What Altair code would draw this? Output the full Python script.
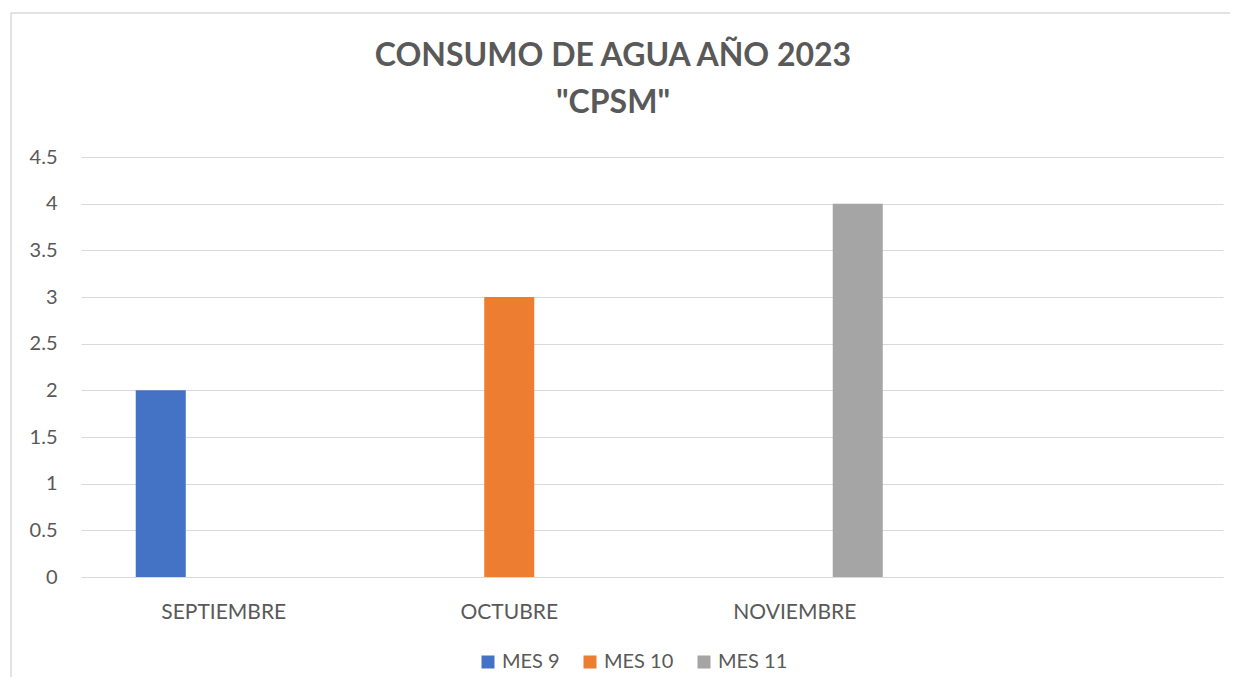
import altair as alt
import pandas as pd

categories = ["SEPTIEMBRE", "OCTUBRE", "NOVIEMBRE", " "]
series = ["MES 9", "MES 10", "MES 11"]
bar_month = ["SEPTIEMBRE", "OCTUBRE", "NOVIEMBRE"]
bar_series = ["MES 9", "MES 10", "MES 11"]
bar_values = [2, 3, 4]
colors = ["#4472C4", "#ED7D31", "#A5A5A5"]
y_ticks = [0, 0.5, 1, 1.5, 2, 2.5, 3, 3.5, 4, 4.5]
title_lines = ["CONSUMO DE AGUA AÑO 2023", '"CPSM"']

df = pd.DataFrame({"mes": bar_month, "serie": bar_series, "valor": bar_values})

FONT = "Lato"
TXT = "#595959"
GRID = "#d9d9d9"

bars = alt.Chart(df).mark_bar().encode(
    x=alt.X(
        "mes:N",
        sort=categories,
        scale=alt.Scale(domain=categories, paddingInner=0, paddingOuter=0),
        axis=alt.Axis(
            title=None, labelAngle=0, ticks=False, domain=True, domainColor=GRID,
            domainWidth=1, labelPadding=24, labelFontSize=21, labelColor=TXT,
            labelFont=FONT, grid=False,
        ),
    ),
    xOffset=alt.XOffset(
        "serie:N",
        sort=series,
        scale=alt.Scale(domain=series, paddingInner=0.206, paddingOuter=0.869),
    ),
    y=alt.Y(
        "valor:Q",
        scale=alt.Scale(domain=[0, 4.5], nice=False),
        axis=alt.Axis(
            title=None, values=y_ticks, format="~g", ticks=False, domain=False,
            grid=True, gridColor=GRID, gridWidth=1, labelPadding=24,
            labelFontSize=20, labelColor=TXT, labelFont=FONT,
        ),
    ),
    color=alt.Color(
        "serie:N",
        sort=series,
        scale=alt.Scale(domain=series, range=colors),
        legend=alt.Legend(
            title=None, orient="none", direction="horizontal", legendX=397,
            legendY=495, symbolType="square", symbolSize=169, symbolStrokeWidth=0,
            labelFontSize=20, labelFont=FONT, labelColor=TXT, labelOffset=4,
            columnPadding=20, padding=0,
        ),
    ),
)

one = alt.Data(values=[{"k": 1}])

border_top = alt.Chart(one).mark_rule(stroke=GRID, strokeWidth=1.5).encode(
    x=alt.value(-70), x2=alt.value(1400), y=alt.value(-144)
)
border_left = alt.Chart(one).mark_rule(stroke=GRID, strokeWidth=1.5).encode(
    x=alt.value(-70), y=alt.value(-144), y2=alt.value(800)
)

title = alt.Chart(one).mark_text(
    text=title_lines, font=FONT, fontSize=32, fontWeight="bold", color=TXT,
    lineHeight=47, align="center", baseline="alphabetic",
).encode(x=alt.value(532), y=alt.value(-91))

chart = alt.layer(border_top, border_left, title, bars).properties(
    width=1142,
    height=420,
    autosize=alt.AutoSizeParams(type="none"),
    padding={"left": 73, "top": 149, "right": 7, "bottom": 100},
).configure_view(stroke=None)

chart.save("out.html", embed_options={"renderer": "svg", "actions": False})
